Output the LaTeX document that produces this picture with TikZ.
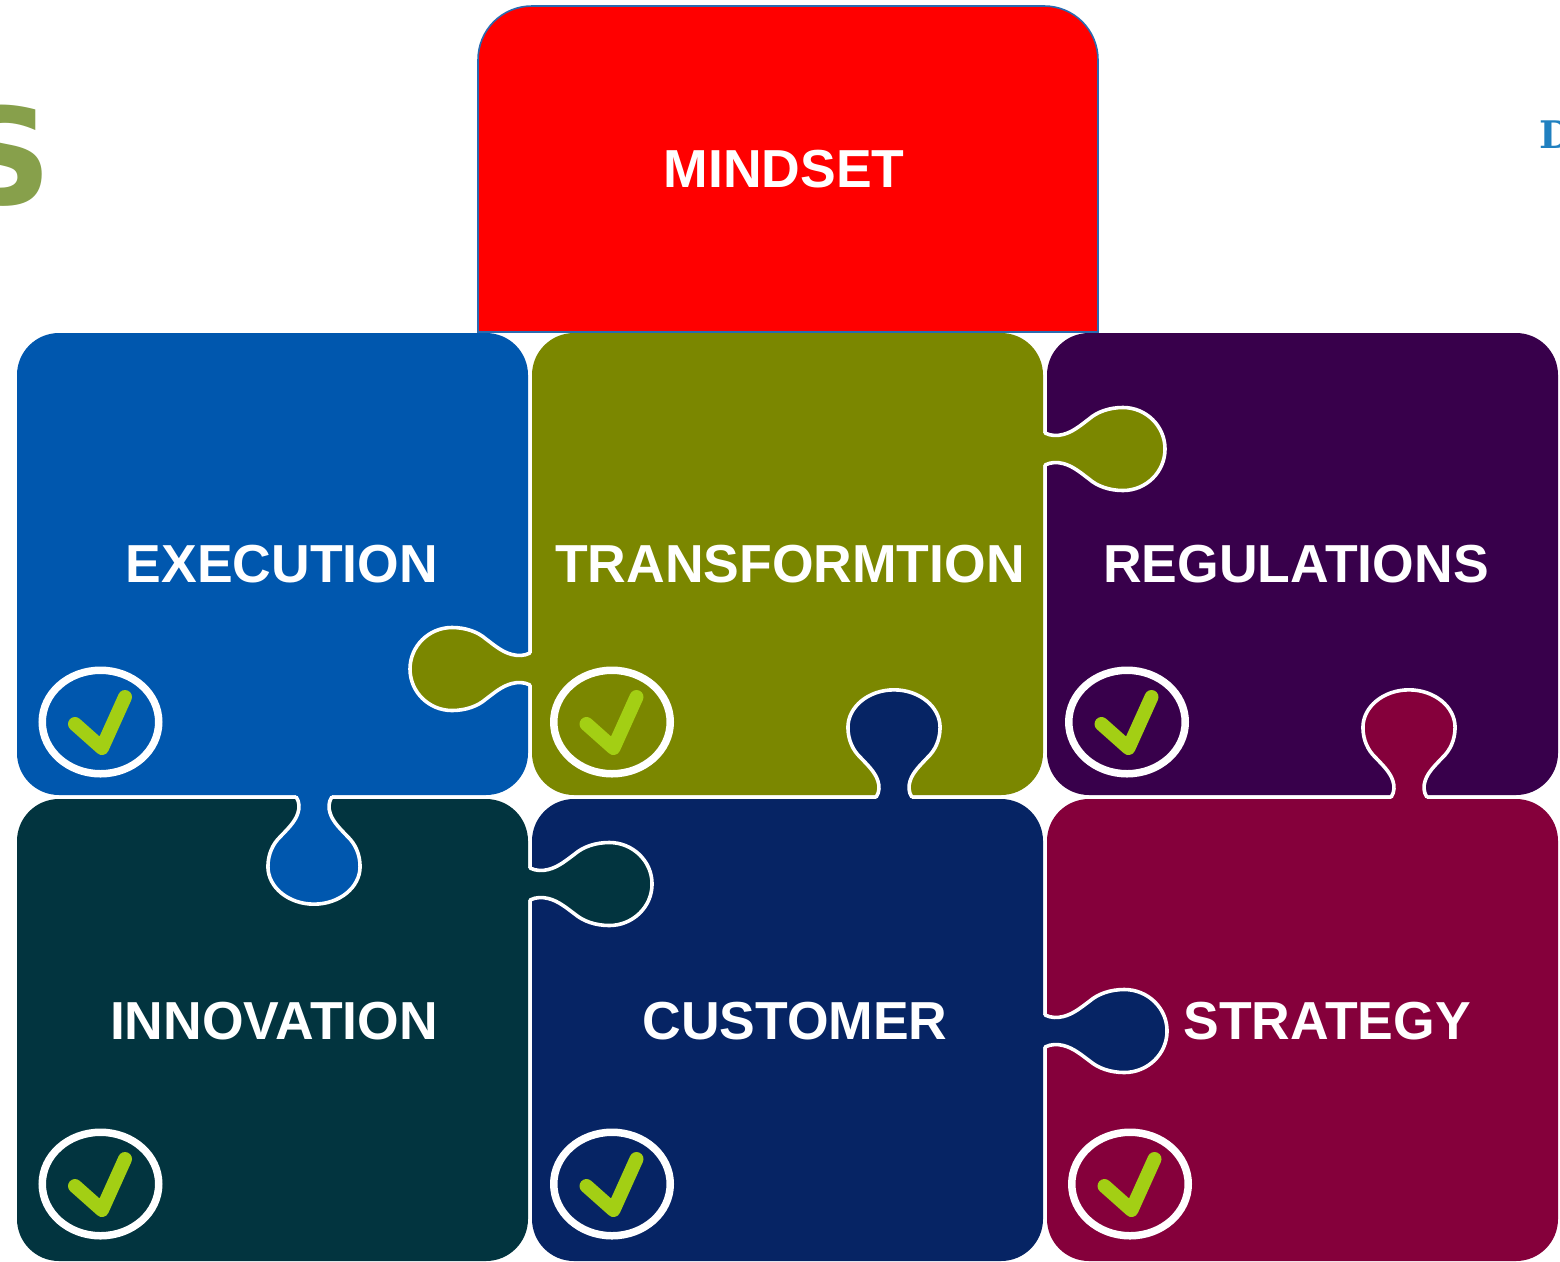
\documentclass[tikz,border=0pt]{standalone}
\usepackage{fontspec}
\usetikzlibrary{shapes.geometric}
\setmainfont{Liberation Sans}
\newfontfamily\heavyfont{DejaVu Sans}
\newfontfamily\serifont{DejaVu Serif}
\definecolor{cblue}{HTML}{0057AE}
\definecolor{colive}{HTML}{7B8700}
\definecolor{cpurple}{HTML}{38004B}
\definecolor{cteal}{HTML}{02343F}
\definecolor{cnavy}{HTML}{062464}
\definecolor{ccrimson}{HTML}{85003B}
\definecolor{cred}{HTML}{FF0000}
\definecolor{credline}{HTML}{2A6AB0}
\definecolor{ccheck}{HTML}{A3CF14}
\definecolor{cs}{HTML}{87A04B}
\definecolor{cd}{HTML}{2080C0}
\tikzset{
  piece/.style={rounded corners=42pt},
  label/.style={text=white,font=\fontsize{53.5}{55}\selectfont\bfseries,inner sep=0pt,anchor=center},
  ring/.style={draw=white,line width=7.5pt},
  tick/.style={draw=ccheck,line width=14pt,line cap=round,line join=round},
  tabedge/.style={draw=white,line width=3.6pt,line cap=round},
}
\newcommand{\tabcurve}{%
  (0,-16) .. controls (6,-13) and (12,-13) .. (18,-14.5)
  .. controls (28,-17) and (36,-24) .. (44,-30)
  .. controls (52,-37) and (64,-41.5) .. (78,-41.5)
  .. controls (101,-41.5) and (120,-23) .. (120,0)
  .. controls (120,23) and (101,41.5) .. (78,41.5)
  .. controls (64,41.5) and (52,37) .. (44,30)
  .. controls (36,24) and (28,17) .. (18,14.5)
  .. controls (12,13) and (6,13) .. (0,16)}
% origin x, origin y, rotation, length scale, width scale, colour
\newcommand{\puzzletab}[6]{%
  \begin{scope}[shift={(#1,#2)},rotate=#3,xscale=#4,yscale=#5]
    \fill[#6] (-5,-16) -- \tabcurve -- (-5,16) -- cycle;
    \draw[tabedge] \tabcurve;
  \end{scope}}
\newcommand{\checkmarkat}[3]{%
  \node[ring,ellipse,minimum width=116.5pt,minimum height=103.5pt,inner sep=0pt] (#3) at (#1,#2) {};
  \draw[tick] (#1-25.5,#2+2) -- (#1+1.5,#2+26) -- (#1+24.5,#2-25);}
\begin{document}
\begin{tikzpicture}[x=1pt,y=-1pt]
\useasboundingbox (0,0) rectangle (1560,1261);
\fill[white] (0,0) rectangle (1560,1261);
% cut-off letters at the edges
\begin{scope}
  \clip (0,0) rectangle (1560,1261);
  \node[text=cs,font=\heavyfont\fontsize{134}{134}\selectfont\bfseries,inner sep=0pt,anchor=base east] (sletter) at (52,204) {S};
  \node[text=cd,font=\serifont\fontsize{38}{38}\selectfont\bfseries,inner sep=0pt,anchor=base west] (dletter) at (1539,148) {D};
\end{scope}
% mindset
\draw[fill=cred,draw=credline,line width=1.6pt] (478,332) -- (478,60)
  .. controls (478,30) and (502,6) .. (532,6) -- (1044,6)
  .. controls (1074,6) and (1098,30) .. (1098,60) -- (1098,332) -- cycle;
% pieces
\fill[piece,cblue] (17,333) rectangle (528,795);
\fill[piece,colive] (532,333) rectangle (1043,795);
\fill[piece,cpurple] (1047,333) rectangle (1558,795);
\fill[piece,cteal] (17,799) rectangle (528,1261);
\fill[piece,cnavy] (532,799) rectangle (1043,1261);
\fill[piece,ccrimson] (1047,799) rectangle (1558,1261);
% tabs
\puzzletab{1045}{449}{0}{1}{1}{colive}
\puzzletab{530}{669}{180}{1}{1}{colive}
\puzzletab{894}{797}{90}{0.893}{1.11}{cnavy}
\puzzletab{1409}{797}{90}{0.893}{1.11}{ccrimson}
\puzzletab{314}{797}{-90}{0.893}{1.11}{cblue}
\puzzletab{530}{884}{0}{1.017}{1}{cteal}
\puzzletab{1045}{1031}{0}{1.017}{1}{cnavy}
% check marks
\checkmarkat{100.5}{722}{c1}
\checkmarkat{612}{722}{c2}
\checkmarkat{1127}{722}{c3}
\checkmarkat{100.5}{1184}{c4}
\checkmarkat{612}{1184}{c5}
\checkmarkat{1130}{1184}{c6}
% labels
\node[label] (mindset) at (784,169) {MINDSET};
\node[label] (execution) at (282,564) {EXECUTION};
\node[label] (transformation) at (790,564) {TRANSFORMTION};
\node[label] (regulations) at (1296,564) {REGULATIONS};
\node[label] (innovation) at (274,1021) {INNOVATION};
\node[label] (customer) at (795,1021) {CUSTOMER};
\node[label] (strategy) at (1327,1021) {STRATEGY};
\end{tikzpicture}
\end{document}
